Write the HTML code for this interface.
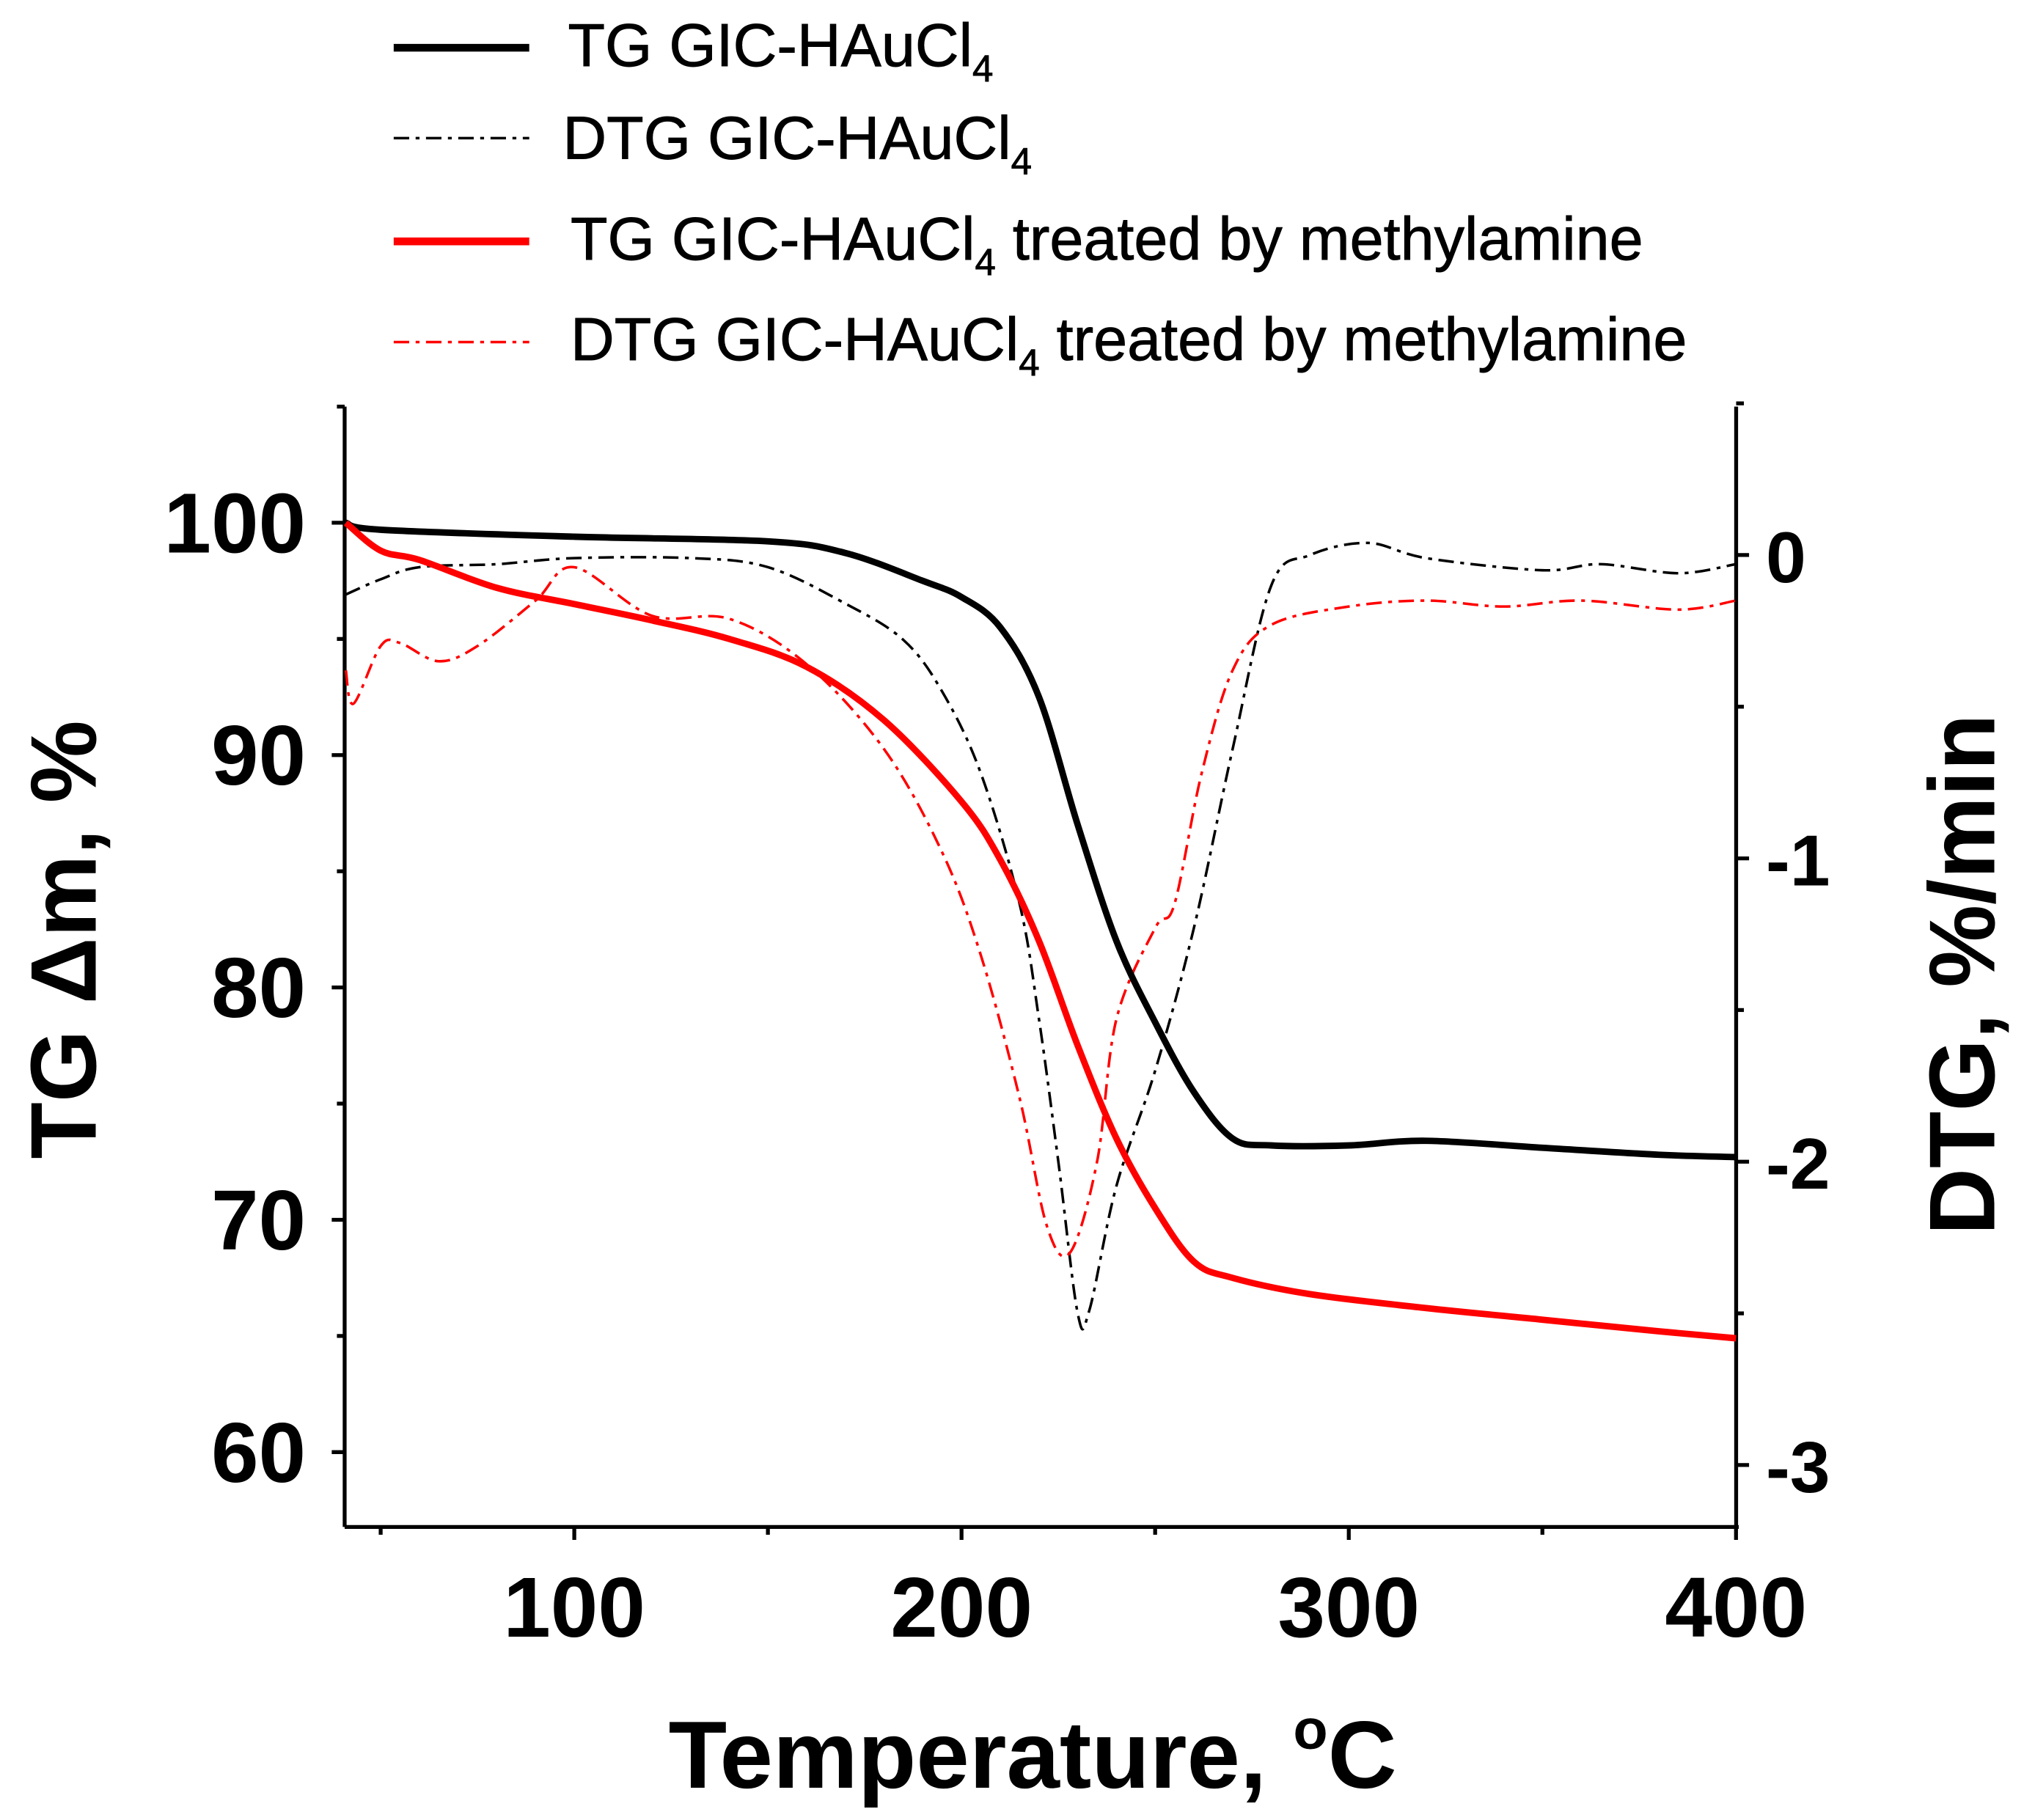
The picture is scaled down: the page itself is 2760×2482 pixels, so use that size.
<!DOCTYPE html>
<html><head><meta charset="utf-8"><style>
html,body{margin:0;padding:0;background:#fff}
svg{display:block}
text{font-family:"Liberation Sans",Arial,sans-serif}
</style></head><body>
<svg id="chart" width="2760" height="2482" viewBox="0 0 1568 1410" preserveAspectRatio="none" xmlns="http://www.w3.org/2000/svg">
<g id="legend" stroke="#000" stroke-width="0.5">
  <g>
    <line x1="305" y1="37" x2="410" y2="37" stroke="#000" stroke-width="6"/>
    <text x="440" y="51" font-size="47">TG GIC-HAuCl<tspan font-size="29" dy="12">4</tspan></text>
  </g>
  <g>
    <line x1="305" y1="107" x2="410" y2="107" stroke="#000" stroke-width="2" stroke-dasharray="12,5,3,5"/>
    <text x="436" y="123" font-size="47">DTG GIC-HAuCl<tspan font-size="29" dy="12">4</tspan></text>
  </g>
  <g>
    <line x1="305" y1="187" x2="410" y2="187" stroke="#f00" stroke-width="6"/>
    <text x="442" y="201" font-size="47">TG GIC-HAuCl<tspan font-size="29" dy="12">4</tspan><tspan dy="-12"> treated by methylamine</tspan></text>
  </g>
  <g>
    <line x1="305" y1="265" x2="410" y2="265" stroke="#f00" stroke-width="2" stroke-dasharray="12,5,3,5"/>
    <text x="442" y="279" font-size="47">DTG GIC-HAuCl<tspan font-size="29" dy="12">4</tspan><tspan dy="-12"> treated by methylamine</tspan></text>
  </g>
</g>
<g id="axes"></g>
<g id="series"></g>
<text transform="translate(74,728) rotate(-90)" text-anchor="middle" font-size="72" font-weight="bold">TG Δm, %</text>
<text transform="translate(1545,755) rotate(-90)" text-anchor="middle" font-size="72" font-weight="bold">DTG, %/min</text>
<text x="800" y="1385" text-anchor="middle" font-size="74" font-weight="bold">Temperature, <tspan font-size="44" dy="-30">o</tspan><tspan dy="30">C</tspan></text>
</svg>
<script>
const tgBlackT=[41,50,100,150,170,190,200,210,220,230,240,250,260,270,280,300,320,350,380,400];
const tgBlackV=[100,99.7,99.4,99.2,98.7,97.5,96.8,95.5,92.5,87,82,78.5,75.5,73.5,73.2,73.2,73.4,73.1,72.8,72.7];
const tgRedT=[41,50,60,80,100,120,140,160,180,200,210,220,230,240,250,260,270,290,320,350,380,400];
const tgRedV=[100,98.8,98.4,97.2,96.5,95.8,95,93.8,91.5,88,85.5,82,77.5,73.5,70.5,68.2,67.5,66.8,66.2,65.7,65.2,64.9];
const dtgBlackT=[41,50,60,80,100,130,150,170,185,195,205,215,220,225,230,233,240,250,260,270,280,290,305,320,350,365,385,400];
const dtgBlackV=[-0.13,-0.08,-0.04,-0.03,-0.01,-0.01,-0.04,-0.16,-0.28,-0.45,-0.72,-1.15,-1.53,-2.0,-2.5,-2.49,-2.08,-1.7,-1.23,-0.64,-0.1,0,0.04,-0.01,-0.05,-0.03,-0.06,-0.03];
const dtgRedT=[41,43,50,55,65,75,90,100,120,140,160,180,195,205,215,222,228,235,240,250,255,262,270,280,300,320,340,360,385,400];
const dtgRedV=[-0.38,-0.49,-0.3,-0.29,-0.35,-0.3,-0.15,-0.04,-0.2,-0.21,-0.36,-0.64,-0.98,-1.32,-1.79,-2.21,-2.3,-2.0,-1.53,-1.23,-1.15,-0.72,-0.38,-0.23,-0.17,-0.15,-0.17,-0.15,-0.18,-0.15];
const xTicks=[100,200,300,400];
const yLeftTicks=[60,70,80,90,100];
const yRightTicks=[0,-1,-2,-3];

const NS="http://www.w3.org/2000/svg";
const X0=267,X1=1345,Y0=315,Y1=1183;
const xs=t=>X0+(t-40.7)*3;
const yl=v=>405+(100-v)*18;
const yr=v=>430-v*235;
function mk(tag,attrs,parent){const e=document.createElementNS(NS,tag);for(const k in attrs)e.setAttribute(k,attrs[k]);parent.appendChild(e);return e;}
const ax=document.getElementById('axes');
let e;
e=mk('line',{x1:X0,y1:Y0,x2:X0,y2:Y1,stroke:'#000','stroke-width':3},ax);


e=mk('line',{x1:X1,y1:Y0,x2:X1,y2:Y1,stroke:'#000','stroke-width':3},ax);


e=mk('line',{x1:X0,y1:Y1,x2:X1+2,y2:Y1,stroke:'#000','stroke-width':3},ax);


xTicks.forEach(t=>{
  mk('line',{x1:xs(t),y1:Y1,x2:xs(t),y2:Y1+10,stroke:'#000','stroke-width':3},ax);
  mk('line',{x1:xs(t-50),y1:Y1,x2:xs(t-50),y2:Y1+6,stroke:'#000','stroke-width':3},ax);
  const tx=mk('text',{x:xs(t),y:1268,'text-anchor':'middle','font-size':66,'font-weight':'bold'},ax);
  tx.textContent=t;
  
  
});
yLeftTicks.forEach(v=>{
  mk('line',{x1:X0-10,y1:yl(v),x2:X0,y2:yl(v),stroke:'#000','stroke-width':3},ax);
  mk('line',{x1:X0-6,y1:yl(v+5),x2:X0,y2:yl(v+5),stroke:'#000','stroke-width':3},ax);
  const tx=mk('text',{x:237,y:yl(v)+23,'text-anchor':'end','font-size':66,'font-weight':'bold'},ax);
  tx.textContent=v;
  
  
});
yRightTicks.forEach(v=>{
  mk('line',{x1:X1,y1:yr(v),x2:X1+10,y2:yr(v),stroke:'#000','stroke-width':3},ax);
  mk('line',{x1:X1,y1:yr(v+0.5),x2:X1+6,y2:yr(v+0.5),stroke:'#000','stroke-width':3},ax);
  const tx=mk('text',{x:1368,y:yr(v)+21,'text-anchor':'start','font-size':56,'font-weight':'bold'},ax);
  tx.textContent=v===0?'0':'-'+Math.abs(v);
  
  
});
const sg=document.getElementById('series');
function smooth(P){
  let d='M'+P[0][0].toFixed(1)+','+P[0][1].toFixed(1);
  for(let i=0;i<P.length-1;i++){
    const p0=P[Math.max(0,i-1)],p1=P[i],p2=P[i+1],p3=P[Math.min(P.length-1,i+2)];
    const k=1/6;
    const c1=[p1[0]+(p2[0]-p0[0])*k,p1[1]+(p2[1]-p0[1])*k];
    const c2=[p2[0]-(p3[0]-p1[0])*k,p2[1]-(p3[1]-p1[1])*k];
    d+='C'+c1[0].toFixed(1)+','+c1[1].toFixed(1)+' '+c2[0].toFixed(1)+','+c2[1].toFixed(1)+' '+p2[0].toFixed(1)+','+p2[1].toFixed(1);
  }
  return d;
}
function path(T,V,yf,attrs){const P=T.map((t,i)=>[xs(t),yf(V[i])]);return mk('path',Object.assign({d:smooth(P),fill:'none','stroke-linejoin':'round'},attrs),sg);}
e=path(dtgBlackT,dtgBlackV,yr,{stroke:'#000','stroke-width':2,'stroke-dasharray':'12,5,3,5'});


e=path(dtgRedT,dtgRedV,yr,{stroke:'#f00','stroke-width':2,'stroke-dasharray':'12,5,3,5'});


e=path(tgBlackT,tgBlackV,yl,{stroke:'#000','stroke-width':5});


e=path(tgRedT,tgRedV,yl,{stroke:'#f00','stroke-width':5});


</script>
</body></html>
